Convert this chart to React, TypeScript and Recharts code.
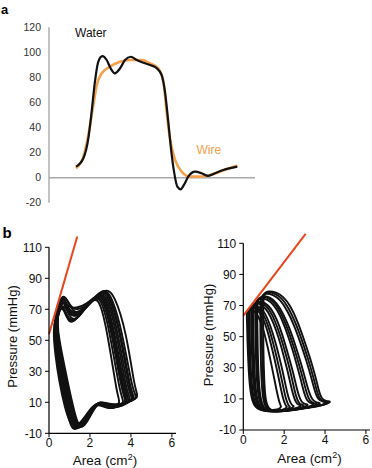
import { Line, LineChart, ReferenceLine, XAxis, YAxis } from "recharts";

const FONT = "'Liberation Sans', Arial, Helvetica, sans-serif";
const ORANGE = "#f5a04a";
const RED = "#e8461e";
const INK = "#111111";

// panel a: flow traces, time (0..100) vs value
const waterT = [13.1, 16.7, 19.1, 20.7, 22.3, 23.9, 25.9, 28, 29.9, 32, 34.5, 36.9, 39.7, 42.6, 46.6, 49, 52.3, 54.7, 56.3, 57.9, 59.2, 60.7, 62.3, 63.9, 65.5, 67.6, 70.9, 74.1, 77.3, 80.6, 84.6, 91.4];
const waterV = [8.8, 15.5, 31.4, 52.7, 76.6, 92.5, 97, 93.9, 87.3, 83.3, 87.3, 93.9, 96.5, 93.9, 91.3, 89.9, 87.3, 81.9, 68.6, 44.7, 23.4, 4.8, -7.2, -9.3, -5.8, 0.8, 4.8, 3.5, 1.4, 3.5, 6.1, 8.8];
const wireT = [13.1, 16.7, 19.1, 21.5, 23.2, 25.6, 29.6, 34.5, 39.3, 45, 49, 53, 55.5, 57.1, 58.7, 61.2, 64.4, 68.4, 73.3, 78.2, 83.8, 91.4];
const wireV = [7.5, 16.8, 34, 58, 74, 83.3, 88.6, 92.5, 93.9, 93.9, 91.3, 87.3, 76.6, 52.7, 31.4, 14.1, 4.8, 0.8, 0.8, 2.1, 5.3, 9.6];
const aTicks = [-20, 0, 20, 40, 60, 80, 100, 120];

// panel b: pressure-area loops [area, pressure]
const leftLoop1 = [[1.28,-8.5],[1.6,-4.5],[1.9,1.5],[2.2,7.5],[2.45,10.5],[2.75,9.5],[3.1,8],[3.5,8.5],[3.9,10.5],[4.3,12.5],[4.2,15],[4.05,21],[3.85,35],[3.6,52],[3.35,66],[3.1,76],[2.85,82],[2.55,82],[2.2,77],[1.8,71],[1.45,66],[1.15,65],[0.9,72],[0.72,78],[0.55,76],[0.38,68],[0.3,59],[0.45,43],[0.7,24],[0.98,7],[1.16,-3.5]];
const leftLoop2 = [[1.32,-8],[1.62,-4],[1.92,2],[2.2,8],[2.42,10],[2.7,9],[3.05,7.5],[3.45,8],[3.85,10],[4.2,12],[4.1,14.5],[3.95,21],[3.75,36],[3.5,53],[3.25,67],[3.0,76.5],[2.78,81.5],[2.5,81],[2.15,76],[1.75,70.5],[1.42,67],[1.12,67],[0.88,73],[0.7,77],[0.52,75],[0.36,67],[0.28,58],[0.42,42],[0.68,23],[0.95,6],[1.18,-3]];
const leftLoop3 = [[1.2,-8.5],[1.5,-5],[1.8,0.5],[2.1,6.5],[2.38,9.5],[2.65,8.5],[3.0,7],[3.4,7.5],[3.75,9.5],[4.1,11.5],[4.0,14],[3.85,20],[3.65,34],[3.4,51],[3.18,65],[2.95,75],[2.72,80.5],[2.45,80],[2.1,75.5],[1.72,70],[1.4,64],[1.1,63],[0.85,70],[0.68,76],[0.5,74],[0.33,66],[0.22,57],[0.35,41],[0.58,22],[0.84,5],[1.04,-4]];
const leftLoop4 = [[1.45,-7],[1.72,-3.5],[1.98,2.5],[2.22,8],[2.45,10],[2.72,8.5],[3.05,7],[3.4,7],[3.7,8.5],[4.0,11],[3.92,13.5],[3.78,19],[3.58,33],[3.35,50],[3.12,64],[2.9,74.5],[2.65,80],[2.38,79],[2.05,75],[1.7,70],[1.38,66],[1.1,65.5],[0.9,71],[0.74,75],[0.57,73],[0.42,66],[0.38,58],[0.55,43],[0.82,25],[1.08,8],[1.28,-2.5]];
const leftLoop5 = [[1.3,-7.5],[1.6,-4],[1.9,1.5],[2.18,7],[2.4,9],[2.68,8],[3.0,6.5],[3.35,7],[3.65,8.5],[3.92,10.5],[3.85,13],[3.72,19],[3.5,33],[3.28,49],[3.05,63],[2.85,73.5],[2.6,79.5],[2.32,78.5],[2.0,74.5],[1.65,70],[1.35,68],[1.08,68],[0.86,72.5],[0.7,74.5],[0.53,72.5],[0.38,66],[0.3,57],[0.44,42],[0.68,24],[0.94,7],[1.12,-3]];
const leftLoop6 = [[1.25,-6],[1.55,-3],[1.85,2.5],[2.12,7.5],[2.35,9],[2.6,8],[2.92,6.5],[3.25,6.5],[3.55,8],[3.82,10],[3.75,12.5],[3.62,18],[3.42,31],[3.2,48],[2.98,62],[2.78,72.5],[2.55,78.5],[2.28,78],[1.95,73.5],[1.6,68],[1.3,63],[1.02,62],[0.8,68],[0.65,73],[0.48,71.5],[0.32,65],[0.2,56],[0.3,41],[0.5,23],[0.78,6],[1.0,-2.5]];
const leftLoop7 = [[1.5,-7],[1.78,-3.5],[2.02,2],[2.25,7],[2.45,9.5],[2.7,8.5],[3.0,7],[3.3,7],[3.55,8.5],[3.75,10.5],[3.68,13],[3.55,19],[3.36,32],[3.14,48],[2.93,62],[2.72,72],[2.5,78],[2.22,77],[1.9,73],[1.56,69],[1.28,66],[1.02,66],[0.84,70.5],[0.7,72.5],[0.55,71],[0.42,65],[0.4,57],[0.58,42],[0.85,24],[1.12,7],[1.32,-2.5]];
const leftLoop8 = [[1.28,-6],[1.58,-3],[1.88,2.5],[2.15,7],[2.38,8.5],[2.62,7.5],[2.9,6],[3.2,6.5],[3.45,8],[3.65,10],[3.58,12.5],[3.46,18],[3.28,31],[3.06,47],[2.86,61],[2.66,71],[2.45,77.5],[2.18,76.5],[1.86,72],[1.52,67],[1.24,62],[0.98,61.5],[0.8,67],[0.66,71],[0.5,70],[0.36,64],[0.27,56],[0.4,41],[0.63,23],[0.9,6],[1.1,-2]];
const leftLoop9 = [[1.22,-8],[1.52,-4.5],[1.82,1],[2.12,7],[2.4,10],[2.68,9],[3.02,7.5],[3.42,8],[3.8,10],[4.15,12],[4.06,14.5],[3.92,20],[3.72,35],[3.48,52],[3.24,66],[3.0,76],[2.75,81.5],[2.46,81],[2.12,76],[1.75,72],[1.45,70],[1.16,70],[0.92,75],[0.74,79],[0.56,77],[0.38,68],[0.26,58],[0.38,42],[0.6,23],[0.86,6],[1.06,-4]];
const leftLoop10 = [[1.58,-7],[1.82,-3.5],[2.05,2],[2.28,7.5],[2.48,9.5],[2.72,8.5],[3.02,7],[3.35,7.5],[3.62,9],[3.85,11],[3.78,13.5],[3.65,19],[3.45,33],[3.22,50],[3.0,64],[2.8,74],[2.58,79.5],[2.3,79],[1.98,75],[1.62,72],[1.33,71],[1.06,71],[0.86,73.5],[0.72,75],[0.56,73.5],[0.42,66],[0.42,57],[0.62,42],[0.9,24],[1.18,7],[1.38,-3]];
const leftLoop11 = [[1.4,-8],[1.7,-4],[2.0,2],[2.28,8],[2.5,10.5],[2.8,9.5],[3.2,8.5],[3.6,9],[4.0,11],[4.35,13],[4.28,16],[4.15,23],[3.98,37],[3.75,54],[3.5,67],[3.22,77],[2.95,82.5],[2.62,82],[2.28,77.5],[1.88,72],[1.5,68],[1.2,68],[0.96,74],[0.78,78.5],[0.6,76.5],[0.42,68],[0.36,58],[0.52,42],[0.78,23],[1.05,6],[1.25,-3.5]];
const leftLoop12 = [[1.45,-6],[1.72,-2.5],[2.0,3],[2.25,7.5],[2.45,9],[2.68,8],[2.92,6.5],[3.15,6.5],[3.32,8],[3.45,10],[3.4,12.5],[3.3,18],[3.14,31],[2.95,46],[2.76,60],[2.58,70],[2.38,76.5],[2.12,76],[1.82,71.5],[1.5,66],[1.22,63],[0.98,63.5],[0.82,68],[0.68,71.5],[0.53,70],[0.4,64],[0.32,56],[0.5,41],[0.75,23],[1.02,6],[1.24,-2]];
const leftLoops = [leftLoop1, leftLoop2, leftLoop3, leftLoop4, leftLoop5, leftLoop6, leftLoop7, leftLoop8, leftLoop9, leftLoop10, leftLoop11, leftLoop12];

const rightLoop1 = [[1.0,78],[1.25,79.5],[1.6,78.5],[1.95,76],[2.3,70],[2.65,60],[2.95,49],[3.25,37],[3.5,26],[3.68,16],[3.82,10],[4.05,8.5],[4.3,8.5],[4.15,7],[3.7,5.5],[3.1,4.5],[2.5,3.5],[1.95,2.5],[1.55,2],[1.25,3],[1.08,9],[1.02,22],[0.98,42],[0.97,60],[0.98,71]];
const rightLoop1b = [[0.92,77],[1.18,79],[1.52,78],[1.88,75],[2.22,68.5],[2.57,58.5],[2.88,47.5],[3.16,36],[3.41,25],[3.59,15.5],[3.73,9.5],[3.98,8],[4.2,8.5],[4.05,6.5],[3.6,5],[3.0,4],[2.4,3],[1.88,2.5],[1.48,2],[1.18,3],[1.02,9],[0.96,23],[0.91,43],[0.9,60],[0.91,70.5]];
const rightLoop2 = [[0.85,76],[1.1,78],[1.45,77],[1.8,74],[2.15,67],[2.5,57],[2.8,46],[3.08,35],[3.32,24],[3.5,15],[3.65,9.5],[3.9,8],[4.1,8],[3.95,6.5],[3.5,5],[2.9,4],[2.3,3],[1.8,2.5],[1.4,2.5],[1.1,3.5],[0.95,10],[0.88,24],[0.84,44],[0.83,61],[0.84,70]];
const rightLoop3 = [[0.7,74],[0.95,76.5],[1.3,75.5],[1.62,72],[1.95,65],[2.28,55],[2.56,44],[2.82,33],[3.05,22],[3.22,14],[3.38,9],[3.6,7.5],[3.8,7.5],[3.65,6],[3.2,4.5],[2.65,3.5],[2.1,2.5],[1.65,2],[1.25,2.5],[0.98,4],[0.82,11],[0.74,25],[0.7,45],[0.68,61],[0.69,69]];
const rightLoop3b = [[0.65,73.5],[0.9,76],[1.24,75],[1.56,71.5],[1.88,64.5],[2.19,54.5],[2.47,43.5],[2.72,32.5],[2.94,22],[3.1,13.5],[3.25,8.5],[3.46,7],[3.65,7],[3.5,5.5],[3.08,4],[2.55,3],[2.02,2],[1.58,1.8],[1.18,2.2],[0.93,4],[0.77,11.5],[0.69,25],[0.65,45],[0.63,61],[0.64,69]];
const rightLoop4 = [[0.6,73],[0.85,75],[1.18,74],[1.5,70.5],[1.8,64],[2.1,54],[2.38,43],[2.62,32],[2.82,22],[2.98,13.5],[3.12,8.5],[3.32,7],[3.5,7],[3.35,5.5],[2.95,4],[2.45,3],[1.95,2],[1.5,2],[1.12,2.5],[0.88,4.5],[0.72,12],[0.64,26],[0.6,46],[0.58,62],[0.59,69]];
const rightLoop5 = [[0.5,71],[0.75,73],[1.05,72],[1.35,68.5],[1.65,61],[1.92,51],[2.16,40],[2.38,30],[2.56,20],[2.7,12.5],[2.84,8],[3.02,6.5],[3.2,6.5],[3.05,5],[2.7,3.5],[2.25,2.5],[1.8,2],[1.38,2],[1.02,2.5],[0.78,5],[0.62,13],[0.55,27],[0.5,47],[0.48,62],[0.49,68]];
const rightLoop5b = [[0.45,70.5],[0.7,72.5],[0.98,71.5],[1.28,67.5],[1.56,60],[1.83,50],[2.06,39.5],[2.27,29.5],[2.44,19.5],[2.57,12],[2.7,7.5],[2.86,6],[3.0,6],[2.88,4.5],[2.55,3.5],[2.12,2.5],[1.7,2],[1.3,2],[0.97,2.5],[0.73,5],[0.57,13.5],[0.5,27.5],[0.45,47.5],[0.43,62],[0.44,67.5]];
const rightLoop6 = [[0.4,70],[0.64,72],[0.92,70.5],[1.2,66.5],[1.48,59],[1.74,49],[1.96,38.5],[2.16,28.5],[2.32,19],[2.45,12],[2.58,7.5],[2.72,6],[2.85,6],[2.72,4.5],[2.4,3.5],[2.0,2.5],[1.6,2],[1.24,2],[0.92,3],[0.68,5.5],[0.52,14],[0.45,28],[0.4,48],[0.38,62],[0.39,67]];
const rightLoop7 = [[0.32,68.5],[0.55,70],[0.82,69],[1.08,65],[1.33,57],[1.56,47],[1.76,37],[1.94,27],[2.08,18],[2.2,11],[2.32,7],[2.42,5.5],[2.5,5.5],[2.38,4],[2.1,3],[1.75,2.5],[1.4,2],[1.08,2.5],[0.8,3.5],[0.58,6],[0.44,15],[0.36,29],[0.32,48],[0.3,61],[0.31,66]];
const rightLoop7b = [[0.28,68],[0.5,69.5],[0.76,68],[1.01,64],[1.25,56],[1.46,46],[1.65,36],[1.82,26],[1.96,17.5],[2.07,10.5],[2.18,6.5],[2.26,5],[2.3,5],[2.2,3.5],[1.95,2.8],[1.62,2.2],[1.3,2],[1.0,2.5],[0.74,3.8],[0.54,6.5],[0.4,15.5],[0.33,29.5],[0.29,48],[0.27,61],[0.27,66]];
const rightLoop8 = [[0.25,67.5],[0.46,69],[0.7,67.5],[0.94,63],[1.16,55],[1.36,45],[1.54,35],[1.7,25.5],[1.83,17],[1.94,10.5],[2.04,6.5],[2.12,5],[2.15,5],[2.05,3.5],[1.8,2.5],[1.5,2],[1.2,2],[0.92,2.5],[0.68,4],[0.5,7],[0.37,16],[0.3,30],[0.26,48],[0.24,61],[0.24,65.5]];
const rightLoop9 = [[0.18,66.5],[0.38,67.5],[0.6,66],[0.82,61],[1.02,53],[1.2,43],[1.36,33],[1.5,24],[1.62,16],[1.72,10],[1.8,6.5],[1.85,5],[1.85,5],[1.75,3.5],[1.55,3],[1.3,2.5],[1.05,2.5],[0.82,3],[0.6,4.5],[0.44,8],[0.32,17],[0.25,31],[0.2,48],[0.18,60],[0.17,64.5]];
const rightLoops = [rightLoop1, rightLoop1b, rightLoop2, rightLoop3, rightLoop3b, rightLoop4, rightLoop5, rightLoop5b, rightLoop6, rightLoop7, rightLoop7b, rightLoop8, rightLoop9];

const pTicks = [-10, 10, 30, 50, 70, 90, 110];
const areaTicks = [0, 2, 4, 6];
const leftSlope = [[0, 54], [1.38, 117]];
const rightSlope = [[0, 63.5], [3.05, 116]];

const toPts = (loop: number[][]) => loop.map(([a, p]) => ({ a, p }));

function LoopPanel({ loops, slope, width, height, yAxisWidth, right, axisHeight }: {
  loops: number[][][]; slope: number[][]; width: number; height: number; yAxisWidth: number; right: number; axisHeight: number;
}) {
  const tick = { fontSize: 12, fill: "#111", fontFamily: FONT };
  return (
    <LineChart width={width} height={height} margin={{ top: 27.3, right, bottom: 0, left: 0 }}>
      <XAxis dataKey="a" type="number" domain={[0, 6.2]} ticks={areaTicks} tick={tick} height={axisHeight}
        axisLine={{ stroke: "#000", strokeWidth: 1.2 }} tickLine={{ stroke: "#000" }} tickSize={4} tickMargin={1} allowDataOverflow />
      <YAxis dataKey="p" type="number" domain={[-10, 110]} ticks={pTicks} tick={tick} width={yAxisWidth} interval={0}
        axisLine={{ stroke: "#000", strokeWidth: 1.2 }} tickLine={{ stroke: "#000" }} tickSize={4} tickMargin={3} />
      {loops.map((loop, i) => (
        <Line key={i} data={toPts(loop)} dataKey="p" type="basisClosed" stroke={INK} strokeWidth={1.9}
          dot={false} activeDot={false} isAnimationActive={false} />
      ))}
      <ReferenceLine segment={[{ x: slope[0][0], y: slope[0][1] }, { x: slope[1][0], y: slope[1][1] }]}
        stroke={RED} strokeWidth={2} ifOverflow="visible" />
    </LineChart>
  );
}

export default function App() {
  const water = waterT.map((t, i) => ({ t, v: waterV[i] }));
  const wire = wireT.map((t, i) => ({ t, v: wireV[i] }));
  const aTick = { fontSize: 10.5, fill: "#333", fontFamily: FONT };

  return (
    <div style={{ position: "absolute", left: 0, top: 0, width: 372, height: 468, background: "#fff", fontFamily: FONT }}>
      <div style={{ position: "absolute", left: 0, top: 0 }}>
        <LineChart width={260} height={210} margin={{ top: 27.3, right: 5, bottom: 7.3, left: 0 }}>
          <XAxis dataKey="t" type="number" domain={[0, 100]} hide />
          <YAxis type="number" domain={[-20, 120]} ticks={aTicks} tick={aTick} width={49} interval={0}
            axisLine={{ stroke: "#9a9a9a", strokeWidth: 1.2 }} tickLine={false} />
          <ReferenceLine y={0} stroke="#aaaaaa" strokeWidth={1.5} />
          <Line data={wire} dataKey="v" type="monotone" stroke={ORANGE} strokeWidth={2.6} dot={false} activeDot={false} isAnimationActive={false} />
          <Line data={water} dataKey="v" type="monotone" stroke={INK} strokeWidth={2.2} dot={false} activeDot={false} isAnimationActive={false} />
        </LineChart>
      </div>
      <div style={{ position: "absolute", left: 0, top: 220 }}>
        <LoopPanel loops={leftLoops} slope={leftSlope} width={190} height={248} yAxisWidth={49} right={14} axisHeight={34.7} />
      </div>
      <div style={{ position: "absolute", left: 194, top: 216 }}>
        <LoopPanel loops={rightLoops} slope={rightSlope} width={178} height={252} yAxisWidth={49.3} right={2} axisHeight={38} />
      </div>
      <svg width={372} height={468} style={{ position: "absolute", left: 0, top: 0, pointerEvents: "none" }}>
        <g fontFamily={FONT}>
          <text x={1} y={14} fontSize={13} fontWeight="bold" fill="#000">a</text>
          <text x={2.5} y={238} fontSize={15} fontWeight="bold" fill="#000">b</text>
          <text x={75} y={37} fontSize={12} fill="#111">Water</text>
          <text x={196.5} y={154} fontSize={12} fill={ORANGE}>Wire</text>
          <text x={105} y={465} fontSize={13.5} textAnchor="middle" fill="#111">
            <tspan>Area (cm</tspan><tspan dy={-5} fontSize={9}>2</tspan><tspan dy={5}>)</tspan>
          </text>
          <text x={309.5} y={463} fontSize={13.5} textAnchor="middle" fill="#111">
            <tspan>Area (cm</tspan><tspan dy={-5} fontSize={9}>2</tspan><tspan dy={5}>)</tspan>
          </text>
          <text transform="translate(17,336.5) rotate(-90)" fontSize={13} textAnchor="middle" fill="#111">Pressure (mmHg)</text>
          <text transform="translate(212.5,335) rotate(-90)" fontSize={13} textAnchor="middle" fill="#111">Pressure (mmHg)</text>
        </g>
      </svg>
    </div>
  );
}
